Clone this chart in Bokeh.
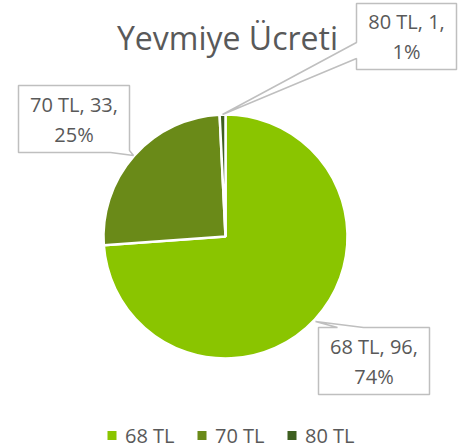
import math
from bokeh.plotting import figure
from bokeh.models import Range1d, ColumnDataSource
from bokeh.core.properties import value
from bokeh.embed import file_html
from bokeh.resources import INLINE

# ---- data ----
categories = ["68 TL", "70 TL", "80 TL"]
counts = [96, 33, 1]
colors = ["#8AC500", "#6A8A18", "#3E5F20"]
title_text = "Yevmiye Ücreti"

FONT = value("Open Sans")
TXT = "#595959"
BORDER = "#BFBFBF"

W, H = 462, 448
p = figure(width=W, height=H, output_backend="svg", toolbar_location=None,
           x_range=Range1d(0, W), y_range=Range1d(-H, 0),
           min_border=0, outline_line_color=None)
p.axis.visible = False
p.grid.visible = False
p.background_fill_color = "white"

# ---- pie (clockwise from 12 o'clock) ----
cx, cy, R = 225, 236, 122
total = sum(counts)
starts, ends, cum = [], [], 0
for c in counts:
    starts.append(math.pi / 2 - 2 * math.pi * cum / total)
    cum += c
    ends.append(math.pi / 2 - 2 * math.pi * cum / total)
src = ColumnDataSource(dict(x=[cx] * 3, y=[-cy] * 3, start=starts, end=ends,
                            color=colors))
p.wedge(x="x", y="y", radius=R, radius_units="screen", start_angle="start",
        end_angle="end", direction="clock", fill_color="color",
        line_color="white", line_width=2.5, source=src)

# ---- callout labels ----
pcts = [round(100 * c / total) for c in counts]
line1 = [f"{cat}, {c}," for cat, c in zip(categories, counts)]
line2 = [f"{q}%" for q in pcts]

# callout outline polygons (box + pointer), image coordinates
callouts = [
    [(318, 327), (337, 327), (315, 321), (363, 327), (429, 327), (429, 394), (318, 394)],
    [(18, 85), (129, 85), (129, 150), (133, 155), (110, 152), (18, 152)],
    [(356, 3), (456, 3), (456, 69), (356, 69), (356, 58), (222, 114), (356, 42)],
]
p.patches(xs=[[v[0] for v in poly] for poly in callouts],
          ys=[[-v[1] for v in poly] for poly in callouts],
          fill_color="white", line_color=BORDER, line_width=1.5)

centers = [((318 + 429) / 2, (327 + 394) / 2),
           ((18 + 129) / 2, (85 + 152) / 2),
           ((356 + 456) / 2, (3 + 69) / 2)]
p.text(x=[c[0] for c in centers], y=[-(c[1] - 15) for c in centers], text=line1,
       text_font=FONT, text_font_size="20px", text_color=TXT,
       text_align="center", text_baseline="middle")
p.text(x=[c[0] for c in centers], y=[-(c[1] + 15) for c in centers], text=line2,
       text_font=FONT, text_font_size="20px", text_color=TXT,
       text_align="center", text_baseline="middle")

# ---- title ----
p.text(x=[227], y=[-37], text=[title_text], text_font=FONT,
       text_font_size="32px", text_color=TXT, text_align="center",
       text_baseline="middle")

# ---- legend ----
leg_sq_x = [111.5, 201.5, 291.5]
leg_y = 435
p.rect(x=leg_sq_x, y=[-leg_y] * 3, width=9, height=9, width_units="screen",
       height_units="screen", fill_color=colors, line_color=None)
p.text(x=[x + 13 for x in leg_sq_x], y=[-leg_y] * 3, text=categories,
       text_font=FONT, text_font_size="20px", text_color=TXT,
       text_align="left", text_baseline="middle")

open("out.html", "w").write(file_html(p, INLINE))
